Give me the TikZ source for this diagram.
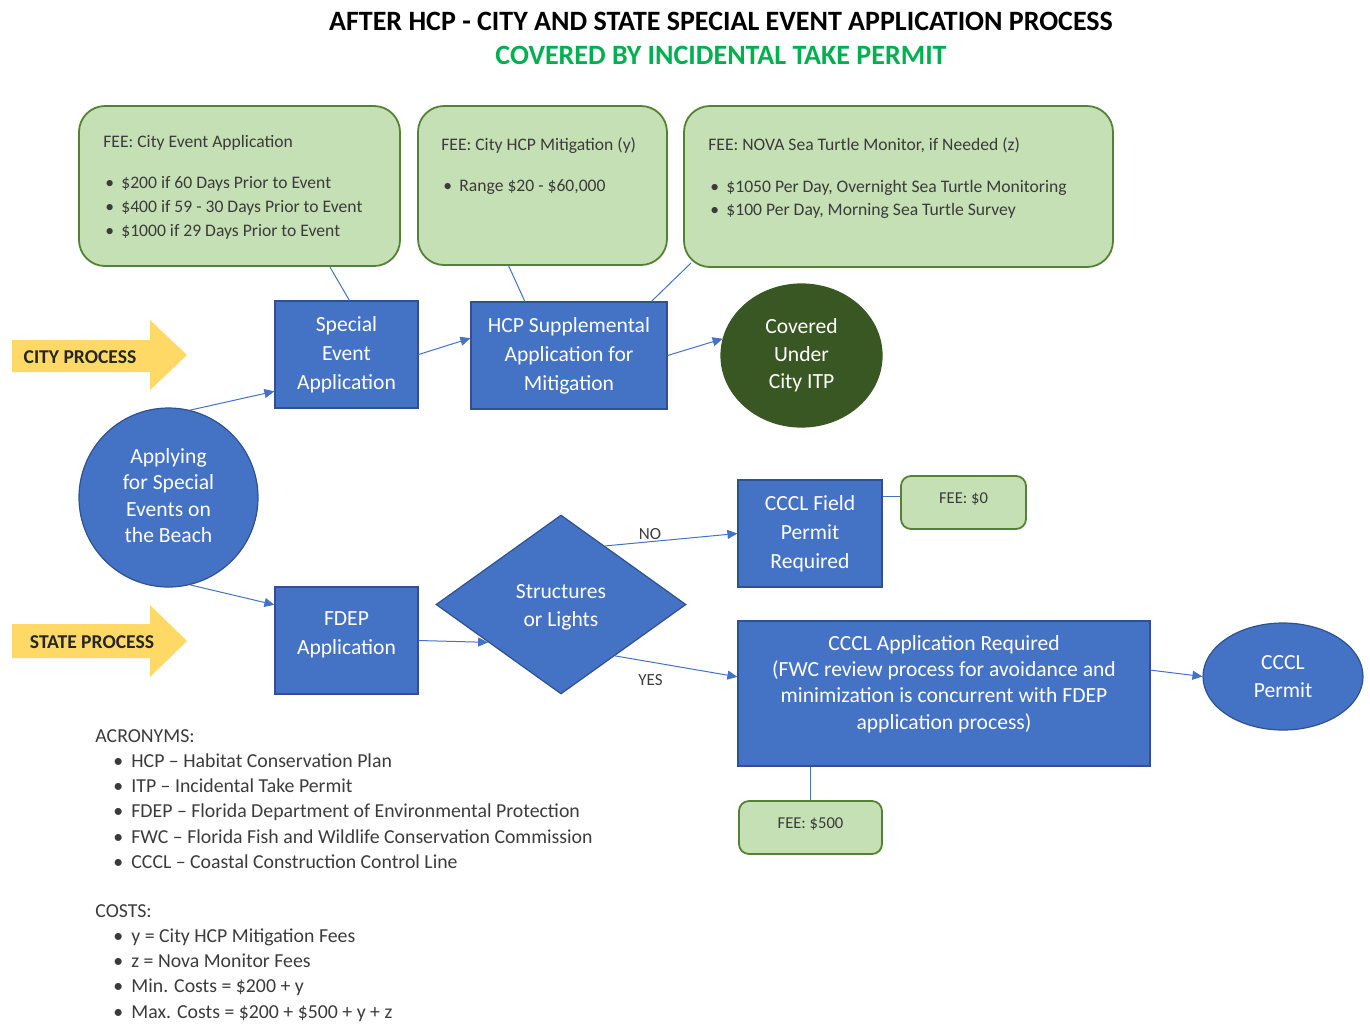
\documentclass[tikz,border=0pt]{standalone}
\usepackage{fontspec}
\setmainfont{Carlito}
\usetikzlibrary{shapes.geometric,calc,arrows.meta}
\definecolor{bluef}{HTML}{4472C4}
\definecolor{blued}{HTML}{2F528F}
\definecolor{greenf}{HTML}{C5E0B4}
\definecolor{greend}{HTML}{548235}
\definecolor{darkgreen}{HTML}{385723}
\definecolor{yellowf}{HTML}{FFD966}
\definecolor{titlegreen}{HTML}{00B050}
\definecolor{txtgray}{HTML}{3B3B3B}
\newcommand{\gbul}{\hspace*{1pt}\makebox[8pt][l]{\textbullet}}
\newcommand{\abul}{\hspace*{9pt}\makebox[9pt][l]{\textbullet}}
\begin{document}
\begin{tikzpicture}[x=0.5pt,y=-0.5pt,
  bluebox/.style={draw=blued, line width=0.6pt, fill=bluef, text=white, align=center, inner sep=0pt,
    font=\fontsize{10.8}{14.5}\selectfont},
  bluetext/.style={text=white, align=center, inner sep=0pt},
  greenbox/.style={draw=greend, line width=0.9pt, fill=greenf, rounded corners=13pt, inner sep=0pt},
  smallgreen/.style={draw=greend, line width=0.9pt, fill=greenf, rounded corners=5pt, inner sep=0pt,
    text=txtgray, font=\fontsize{8.3}{10}\selectfont},
  greentext/.style={anchor=north west, inner sep=0pt, align=left, text=txtgray, font=\fontsize{8.8}{12}\selectfont},
  conn/.style={draw=bluef, line width=0.5pt},
  arr/.style={conn, -{Triangle[length=5pt,width=4.5pt]}},
  yarrow/.style={fill=yellowf, draw=none},
  ylabel/.style={font=\bfseries\fontsize{9.8}{12}\selectfont, text=black!85, inner sep=0pt},
  edgelabel/.style={font=\fontsize{8.5}{10}\selectfont, text=txtgray, inner sep=0pt},
  listtext/.style={anchor=north west, inner sep=0pt, align=left, text=txtgray, font=\fontsize{9.9}{12.6}\selectfont}
]
\useasboundingbox (0,0) rectangle (1370,1024);

% Titles
\node[font=\bfseries\fontsize{14}{16}\selectfont, text=black, inner sep=0pt] (title) at (721,21)
  {AFTER HCP - CITY AND STATE SPECIAL EVENT APPLICATION PROCESS};
\node[font=\bfseries\fontsize{14}{16}\selectfont, text=titlegreen, inner sep=0pt] (subtitle) at (721,55)
  {COVERED BY INCIDENTAL TAKE PERMIT};

% Green fee boxes
\node[greenbox, minimum width=160.5pt, minimum height=80pt] (g1) at (239.5,186) {};
\node[greenbox, minimum width=124.5pt, minimum height=79.5pt] (g2) at (542.5,185.5) {};
\node[greenbox, minimum width=214.5pt, minimum height=80.5pt] (g3) at (898.5,186.5) {};

\node[greentext] (g1t) at (103,135) {FEE: City Event Application\\[8.5pt]
  \gbul \$200 if 60 Days Prior to Event\\
  \gbul \$400 if 59 - 30 Days Prior to Event\\
  \gbul \$1000 if 29 Days Prior to Event};
\node[greentext] (g2t) at (441,137) {FEE: City HCP Mitigation (y)\\[8.5pt]
  \gbul Range \$20 - \$60,000};
\node[greentext] (g3t) at (708,137) {FEE: NOVA Sea Turtle Monitor, if Needed (z)\\[9pt]
  \gbul \$1050 Per Day, Overnight Sea Turtle Monitoring\\[-0.5pt]
  \gbul \$100 Per Day, Morning Sea Turtle Survey};

% Yellow process arrows
\path[yarrow] (12,340) -- (150,340) -- (150,320) -- (187,355) -- (150,390) -- (150,372) -- (12,372) -- cycle;
\node[ylabel] (cityp) at (80,357) {CITY PROCESS};
\path[yarrow] (12,624) -- (150,624) -- (150,605) -- (187,641) -- (150,677) -- (150,658) -- (12,658) -- cycle;
\node[ylabel] (statep) at (92,642) {STATE PROCESS};

% Blue process nodes
\node[bluebox, minimum width=71.5pt, minimum height=53.5pt] (sea) at (346.5,354.5) {Special\\Event\\Application};
\node[bluebox, minimum width=98pt, minimum height=53.5pt] (hcp) at (569,355.5) {HCP Supplemental\\Application for\\Mitigation};
\node[bluebox, ellipse, fill=darkgreen, draw=darkgreen, minimum width=80.5pt, minimum height=71.5pt,
  font=\fontsize{10.8}{13.8}\selectfont] (cov) at (801.5,355.5) {Covered\\Under\\City ITP};
\node[bluebox, circle, minimum size=89.5pt] (app) at (168.5,497.5) {};
\node[bluetext, font=\fontsize{10.8}{13.2}\selectfont] (appt) at (168.5,495.5)
  {Applying\\for Special\\Events on\\the Beach};
\node[bluebox, minimum width=71.5pt, minimum height=53.5pt] (fdep) at (346.5,640.5) {};
\node[bluetext, font=\fontsize{10.8}{14.5}\selectfont] (fdept) at (346.5,635) {FDEP\\Application};
\node[bluebox, diamond, minimum width=125pt, minimum height=89.5pt] (dia) at (561,604.5) {};
\node[bluetext, font=\fontsize{10.8}{14}\selectfont] (diat) at (561,607.5) {Structures\\or Lights};
\node[bluebox, minimum width=72pt, minimum height=53.5pt] (ccclf) at (810,533.5) {CCCL Field\\Permit\\Required};
\node[smallgreen, minimum width=62.5pt, minimum height=26.5pt] (fee0) at (963.5,502.5) {};
\node[text=txtgray, font=\fontsize{8.3}{10}\selectfont, inner sep=0pt] (fee0t) at (963.5,499) {FEE: \$0};
\node[bluebox, minimum width=206pt, minimum height=72.5pt] (cccla) at (944,693.5) {};
\node[bluetext, font=\fontsize{10.8}{13.2}\selectfont] (ccclat) at (944,684)
  {CCCL Application Required\\(FWC review process for avoidance and\\minimization is concurrent with FDEP\\application process)};
\node[bluebox, ellipse, minimum width=80pt, minimum height=53.5pt, font=\fontsize{10.8}{14}\selectfont] (permit) at (1283,676.5)
  {CCCL\\Permit};
\node[smallgreen, minimum width=71.5pt, minimum height=26.5pt] (fee500) at (810.5,827.5) {};
\node[text=txtgray, font=\fontsize{8.3}{10}\selectfont, inner sep=0pt] (fee500t) at (810.5,824) {FEE: \$500};

% Plain connectors (fees)
\draw[conn] ($(g1.south west)!0.78!(g1.south east)$) -- ($(sea.north west)!0.52!(sea.north east)$);
\draw[conn] ($(g2.south west)!0.365!(g2.south east)$) -- ($(hcp.north west)!0.276!(hcp.north east)$);
\draw[conn] ($(g3.south west)+(8,-5)$) -- ($(hcp.north west)!0.918!(hcp.north east)$);
\coordinate (f0a) at ($(ccclf.north east)!0.16!(ccclf.south east)$);
\draw[conn] (f0a) -- (f0a -| fee0.west);
\draw[conn] (fee500.north |- cccla.south) -- (fee500.north);

% Arrows
\draw[arr] (app.76) -- ($(sea.north west)!0.84!(sea.south west)$);
\draw[arr] (sea.east) -- ($(hcp.north west)!0.34!(hcp.south west)$);
\draw[arr] (hcp.east) -- (cov.168);
\draw[arr] (app.-76) -- ($(fdep.north west)!0.17!(fdep.south west)$);
\draw[arr] (fdep.east) -- ($(dia.west)!0.42!(dia.south)$);
\draw[arr] ($(dia.north)!0.35!(dia.east)$) -- node[edgelabel, pos=0.34, above=1pt] (nolab) {NO} (ccclf.west);
\draw[arr] ($(dia.east)!0.57!(dia.south)$) -- node[edgelabel, pos=0.29, below=6pt] (yeslab) {YES} ($(cccla.north west)!0.386!(cccla.south west)$);
\draw[arr] ($(cccla.north east)!0.34!(cccla.south east)$) -- (permit.west);

% Acronyms and costs
\node[listtext] (acr) at (95,729) {ACRONYMS:\\
  \abul HCP – Habitat Conservation Plan\\
  \abul ITP – Incidental Take Permit\\
  \abul FDEP – Florida Department of Environmental Protection\\
  \abul FWC – Florida Fish and Wildlife Conservation Commission\\
  \abul CCCL – Coastal Construction Control Line};
\node[listtext] (costs) at (95,904) {COSTS:\\
  \abul y = City HCP Mitigation Fees\\
  \abul z = Nova Monitor Fees\\
  \abul Min. Costs = \$200 + y\\
  \abul Max. Costs = \$200 + \$500 + y + z};
\end{tikzpicture}
\end{document}
